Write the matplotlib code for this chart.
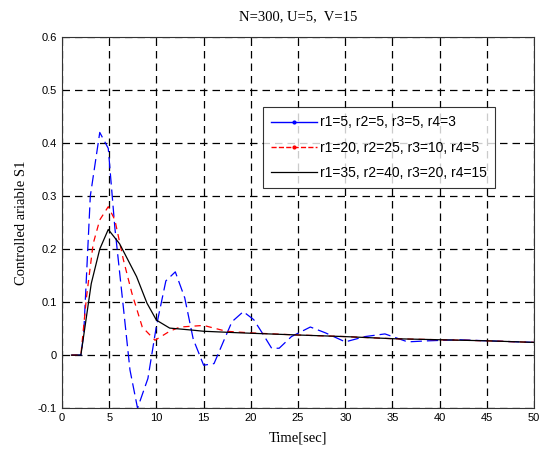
import matplotlib
matplotlib.use("Agg")
import matplotlib.pyplot as plt
from matplotlib.lines import Line2D

# Data
t_blue = [1, 2, 2.3, 3.0, 4.0, 4.9, 5.6, 6.5, 7.2, 8.0, 9.1, 10.0, 11.0, 12.0, 13.0,
          13.9, 15.0, 16.1, 17.2, 18.0, 19.2, 20.3, 21.2, 22.2, 23.0, 24.3, 26.3,
          27.9, 30.0, 32.1, 34.2, 36.6, 38.8, 42.0, 45.0, 50.0]
y_blue = [0, 0, 0.04, 0.30, 0.42, 0.39, 0.24, 0.09, -0.028, -0.10, -0.044, 0.055,
          0.14, 0.157, 0.108, 0.03, -0.019, -0.016, 0.03, 0.063, 0.082, 0.067, 0.042,
          0.013, 0.013, 0.035, 0.053, 0.042, 0.025, 0.035, 0.040, 0.025, 0.027,
          0.029, 0.027, 0.024]

t_red = [1, 2, 2.6, 3.3, 4.0, 4.9, 5.6, 6.5, 7.4, 8.5, 9.85, 11.4, 12.5, 15.0,
         17.4, 19.9, 24.9, 29.9, 35.0, 40.0, 45.0, 50.0]
y_red = [0, 0, 0.11, 0.21, 0.255, 0.28, 0.255, 0.18, 0.117, 0.053, 0.028, 0.045,
         0.053, 0.056, 0.045, 0.042, 0.038, 0.035, 0.031, 0.029, 0.027, 0.024]

t_black = [1, 2, 3.1, 4.0, 4.9, 6.1, 7.9, 9.0, 10.0, 11.4, 13.9, 15.0, 18.9, 24.9,
           29.9, 35.0, 40.0, 45.0, 50.0]
y_black = [0, 0, 0.135, 0.20, 0.237, 0.21, 0.148, 0.098, 0.066, 0.051, 0.047, 0.045,
           0.042, 0.038, 0.035, 0.031, 0.029, 0.027, 0.024]

labels = ["r1=5, r2=5, r3=5, r4=3",
          "r1=20, r2=25, r3=10, r4=5",
          "r1=35, r2=40, r3=20, r4=15"]
title = "N=300, U=5,  V=15"
xlabel = "Time[sec]"
ylabel = "Controlled ariable S1"
xticks = [0, 5, 10, 15, 20, 25, 30, 35, 40, 45, 50]
yticks = [-0.1, 0, 0.1, 0.2, 0.3, 0.4, 0.5, 0.6]

fig = plt.figure(figsize=(5.39, 4.54), dpi=100)
ax = fig.add_axes([0.115, 0.101, 0.876, 0.8175])

ax.plot(t_blue, y_blue, color="blue", lw=0.9, linestyle=(0, (9, 4)))
ax.plot(t_red, y_red, color="red", lw=0.9, linestyle=(0, (5, 4)))
ax.plot(t_black, y_black, color="black", lw=0.9)

ax.set_xlim(0, 50)
ax.set_ylim(-0.1, 0.6)
ax.set_xticks(xticks)
ax.set_yticks(yticks)
ax.set_xticklabels([str(v) for v in xticks])
ax.set_yticklabels(["-0.1", "0", "0.1", "0.2", "0.3", "0.4", "0.5", "0.6"])
ax.grid(True, color="black", linestyle=(0, (6, 4)), lw=0.9)
ax.tick_params(direction="in", top=True, right=True, length=4, width=0.6,
               labelsize=8)
for lab in ax.get_xticklabels() + ax.get_yticklabels():
    lab.set_family("Liberation Sans")
for s in ax.spines.values():
    s.set_linewidth(0.8)
    s.set_color("#333333")

ax.set_title(title, family="Liberation Serif", fontsize=10.5, pad=12)
ax.set_xlabel(xlabel, family="Liberation Serif", fontsize=10.5, labelpad=6)
ax.set_ylabel(ylabel, family="Liberation Serif", fontsize=10.5, labelpad=7)

handles = [
    Line2D([0, 0.5, 1], [0, 0, 0], color="blue", lw=1.0, marker=".", markersize=4,
           markevery=[1], linestyle="-"),
    Line2D([0, 0.5, 1], [0, 0, 0], color="red", lw=1.0, marker=".", markersize=4,
           markevery=[1], linestyle="--"),
    Line2D([], [], color="black", lw=0.9),
]
leg = ax.legend(handles, labels, loc="upper left", bbox_to_anchor=(0.426, 0.811),
                prop={"family": "Liberation Sans", "size": 10},
                handlelength=3.3, frameon=True, fancybox=False, borderpad=0.6,
                labelspacing=0.8, handletextpad=0.2, borderaxespad=0)
leg.get_frame().set_edgecolor("black")
leg.get_frame().set_linewidth(0.8)

fig.savefig("out.png", dpi=100)
